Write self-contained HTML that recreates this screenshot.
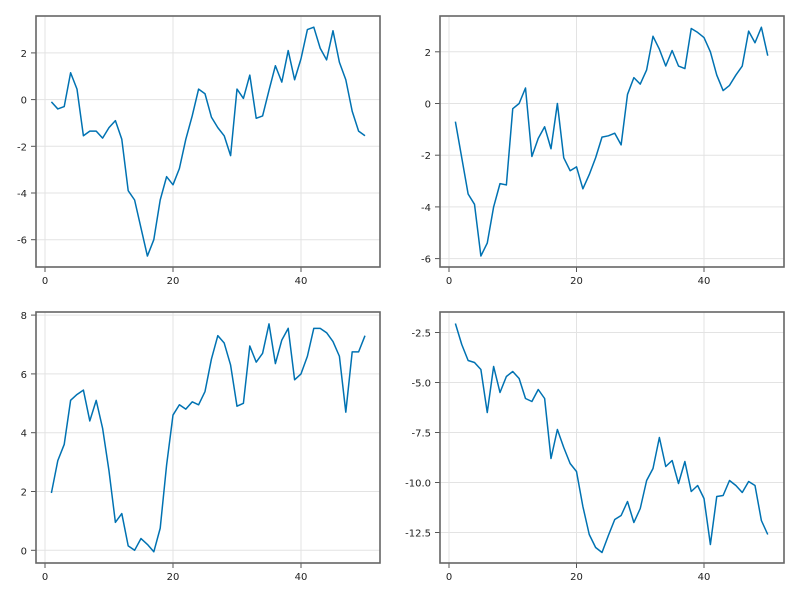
<!DOCTYPE html>
<html><head><meta charset="utf-8"><style>
body{margin:0;background:#fff;}
svg{display:block;font-family:"DejaVu Sans","Liberation Sans",sans-serif;}
</style></head><body>
<svg id="chart" width="800" height="600" viewBox="0 0 800 600"></svg>
<script>
const xTicks = [0, 20, 40];
const series1 = [-0.1,-0.4,-0.3,1.15,0.45,-1.55,-1.35,-1.35,-1.65,-1.2,-0.9,-1.7,-3.9,-4.3,-5.5,-6.7,-6.0,-4.3,-3.3,-3.65,-2.95,-1.7,-0.7,0.45,0.25,-0.75,-1.2,-1.55,-2.4,0.45,0.05,1.05,-0.8,-0.7,0.4,1.45,0.75,2.1,0.85,1.75,3.0,3.1,2.2,1.7,2.95,1.6,0.85,-0.5,-1.35,-1.55];
const series2 = [-0.7,-2.1,-3.5,-3.9,-5.9,-5.4,-4.0,-3.1,-3.15,-0.2,0.0,0.6,-2.05,-1.35,-0.9,-1.75,0.0,-2.1,-2.6,-2.45,-3.3,-2.75,-2.1,-1.3,-1.25,-1.15,-1.6,0.35,1.0,0.75,1.3,2.6,2.1,1.45,2.05,1.45,1.35,2.9,2.75,2.55,2.0,1.1,0.5,0.7,1.1,1.45,2.8,2.35,2.95,1.85];
const series3 = [1.95,3.05,3.6,5.1,5.3,5.45,4.4,5.1,4.15,2.7,0.95,1.25,0.15,0.0,0.4,0.2,-0.05,0.75,2.9,4.6,4.95,4.8,5.05,4.95,5.4,6.5,7.3,7.05,6.3,4.9,5.0,6.95,6.4,6.7,7.7,6.35,7.15,7.55,5.8,6.0,6.6,7.55,7.55,7.4,7.1,6.6,4.7,6.75,6.75,7.3];
const series4 = [-2.05,-3.1,-3.9,-4.0,-4.35,-6.5,-4.2,-5.5,-4.7,-4.45,-4.8,-5.8,-5.95,-5.35,-5.8,-8.8,-7.35,-8.25,-9.05,-9.45,-11.2,-12.6,-13.25,-13.5,-12.65,-11.85,-11.65,-10.95,-12.0,-11.3,-9.9,-9.3,-7.75,-9.2,-8.9,-10.05,-8.95,-10.45,-10.15,-10.8,-13.1,-10.7,-10.65,-9.9,-10.15,-10.5,-9.95,-10.15,-11.9,-12.6];
const yTicks1 = [-6,-4,-2,0,2];
const yTicks2 = [-6,-4,-2,0,2];
const yTicks3 = [0,2,4,6,8];
const yTicks4 = [-12.5,-10,-7.5,-5,-2.5];
const yLabels4 = ["-12.5","-10.0","-7.5","-5.0","-2.5"];

const NS="http://www.w3.org/2000/svg";
const svg=document.getElementById('chart');
function mk(tag,attrs,parent){const e=document.createElementNS(NS,tag);for(const k in attrs)e.setAttribute(k,attrs[k]);(parent||svg).appendChild(e);return e;}

const panels=[
 {data:series1,yt:yTicks1,yl:null,box:[36,16,380,267],x0:45,xs:6.4,yRef:[0,99.6],ys:23.35},
 {data:series2,yt:yTicks2,yl:null,box:[440,16,784,267],x0:449,xs:6.375,yRef:[0,103.5],ys:25.85},
 {data:series3,yt:yTicks3,yl:null,box:[36,312,380,563],x0:45,xs:6.4,yRef:[0,550.3],ys:29.4},
 {data:series4,yt:yTicks4,yl:yLabels4,box:[440,312,784,563],x0:449,xs:6.375,yRef:[-2.5,332.5],ys:20}
];
panels.forEach((p,i)=>{
  const g=mk('g',{});
  
  
  const [L,T,R,B]=p.box;
  const X=v=>p.x0+v*p.xs;
  const Y=v=>p.yRef[1]-(v-p.yRef[0])*p.ys;
  xTicks.forEach(t=>{
    const gl=mk('line',{x1:X(t),x2:X(t),y1:T,y2:B,stroke:'#e3e3e3','stroke-width':1},g);
    
    
    mk('line',{x1:X(t),x2:X(t),y1:B,y2:B+5,stroke:'#555','stroke-width':1},g);
    const tx=mk('text',{x:X(t),y:B+17,'text-anchor':'middle','font-size':10,fill:'#222'},g);
    tx.textContent=t;
    
    
  });
  p.yt.forEach((t,j)=>{
    const gl=mk('line',{x1:L,x2:R,y1:Y(t),y2:Y(t),stroke:'#e3e3e3','stroke-width':1},g);
    
    
    mk('line',{x1:L-5,x2:L,y1:Y(t),y2:Y(t),stroke:'#555','stroke-width':1},g);
    const tx=mk('text',{x:L-9,y:Y(t)+4,'text-anchor':'end','font-size':10,fill:'#222'},g);
    tx.textContent=p.yl?p.yl[j]:t;
    
    
  });
  const pts=p.data.map((v,k)=>X(k+1).toFixed(2)+','+Y(v).toFixed(2)).join(' ');
  const pl=mk('polyline',{points:pts,fill:'none',stroke:'#0072b2','stroke-width':1.5,'stroke-linejoin':'round'},g);
  
  
  const fr=mk('rect',{x:L,y:T,width:R-L,height:B-T,fill:'none',stroke:'#666','stroke-width':1.6},g);
  
  
});
</script>
</body></html>
